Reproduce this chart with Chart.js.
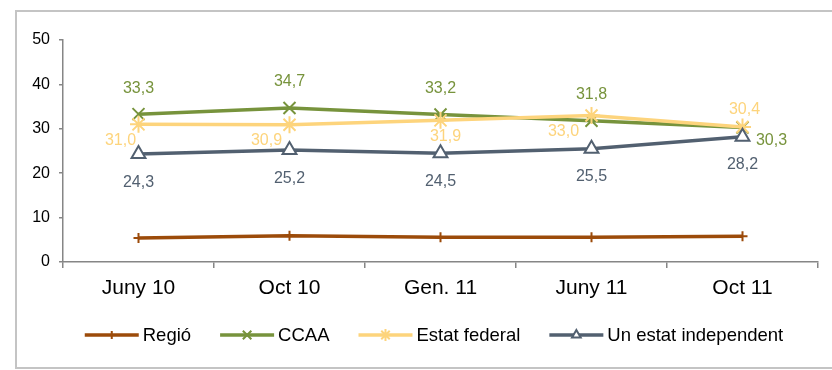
<!DOCTYPE html>
<html>
<head>
<meta charset="utf-8">
<script src="https://cdn.jsdelivr.net/npm/chart.js@4/dist/chart.umd.min.js"></script>
<style>
  html, body { margin: 0; background: #fff; }
  #wrap { width: 832px; height: 370px; }
</style>
</head>
<body>
<div id="wrap"><canvas id="chart" width="832" height="370"></canvas></div>
<script>
// Survey waves and the share (%) for each preferred model
const periods = ["Juny 10", "Oct 10", "Gen. 11", "Juny 11", "Oct 11"];
const regio = [5.4, 5.9, 5.6, 5.6, 5.8];
const ccaa = [33.3, 34.7, 33.2, 31.8, 30.3];
const federal = [31.0, 30.9, 31.9, 33.0, 30.4];
const independent = [24.3, 25.2, 24.5, 25.5, 28.2];

const FONT = "'Liberation Sans', Arial, sans-serif";
const AXIS = "#868686";

// where each value label sits relative to its point, [dx, dy]
const ccaaLabelPos = [[0, -26], [0, -26], [0, -26], [0, -26], [29, 13]];
const federalLabelPos = [[-18, 16], [-23, 16], [5, 16], [-28, 16], [2, -17]];
const independentLabelPos = [[0, 28], [0, 28], [0, 28], [0, 28], [0, 28]];

function fmt(v) {
  return v.toFixed(1).replace(".", ",");
}

// outer frame, open on the right
const framePlugin = {
  id: "frame",
  beforeDraw(chart) {
    const ctx = chart.ctx;
    ctx.save();
    ctx.strokeStyle = "#c4c4c4";
    ctx.lineWidth = 2;
    ctx.beginPath();
    ctx.moveTo(chart.width, 11);
    ctx.lineTo(16, 11);
    ctx.lineTo(16, 368);
    ctx.lineTo(chart.width, 368);
    ctx.stroke();
    ctx.restore();
  }
};

const valueLabels = {
  id: "valueLabels",
  afterDatasetsDraw(chart) {
    const ctx = chart.ctx;
    ctx.save();
    ctx.font = "16px " + FONT;
    ctx.textAlign = "center";
    ctx.textBaseline = "middle";
    chart.data.datasets.forEach((ds, i) => {
      if (!ds.labelPos) return;
      const meta = chart.getDatasetMeta(i);
      ctx.fillStyle = ds.labelColor || ds.borderColor;
      meta.data.forEach((pt, j) => {
        const off = ds.labelPos[j];
        ctx.fillText(fmt(ds.data[j]), pt.x + off[0], pt.y + off[1]);
      });
    });
    ctx.restore();
  }
};

// legend row: short line with the series marker, then the name
const legendRow = {
  id: "legendRow",
  afterDraw(chart) {
    const ctx = chart.ctx;
    const lineLen = 54, gapText = 4, gapItem = 29;
    const y = 335;
    ctx.save();
    ctx.font = "18.5px " + FONT;
    const items = chart.data.datasets.map(ds => ({
      ds: ds,
      w: lineLen + gapText + ctx.measureText(ds.label).width
    }));
    const total = items.reduce((a, it) => a + it.w, 0) + gapItem * (items.length - 1);
    let x = 434 - total / 2;
    items.forEach(it => {
      const ds = it.ds;
      ctx.strokeStyle = ds.borderColor;
      ctx.lineWidth = 3.5;
      ctx.beginPath();
      ctx.moveTo(x, y);
      ctx.lineTo(x + lineLen, y);
      ctx.stroke();
      ctx.fillStyle = ds.pointBackgroundColor;
      ctx.lineWidth = ds.pointBorderWidth;
      Chart.helpers.drawPoint(ctx, {
        pointStyle: ds.pointStyle,
        radius: ds.legendRadius,
        rotation: 0,
        borderWidth: ds.pointBorderWidth
      }, x + lineLen / 2, y);
      ctx.fillStyle = "#000";
      ctx.textAlign = "left";
      ctx.textBaseline = "middle";
      ctx.fillText(ds.label, x + lineLen + gapText, y + 1);
      x += it.w + gapItem;
    });
    ctx.restore();
  }
};

const ctx = document.getElementById("chart").getContext("2d");
new Chart(ctx, {
  type: "line",
  data: {
    labels: periods,
    datasets: [
      {
        label: "Regió",
        data: regio,
        borderColor: "#9c4b0a",
        pointBackgroundColor: "#9c4b0a",
        pointBorderColor: "#9c4b0a",
        pointStyle: "cross",
        pointRadius: 5,
        legendRadius: 4,
        pointBorderWidth: 2,
        order: 4
      },
      {
        label: "CCAA",
        data: ccaa,
        borderColor: "#77933c",
        pointBackgroundColor: "#77933c",
        pointBorderColor: "#77933c",
        pointStyle: "crossRot",
        pointRadius: 8.5,
        legendRadius: 6,
        pointBorderWidth: 2,
        labelPos: ccaaLabelPos,
        order: 3
      },
      {
        label: "Estat federal",
        data: federal,
        borderColor: "#fdd47c",
        pointBackgroundColor: "#fdd47c",
        pointBorderColor: "#fdd47c",
        pointStyle: "star",
        pointRadius: 8.5,
        legendRadius: 6,
        pointBorderWidth: 2,
        labelPos: federalLabelPos,
        order: 2
      },
      {
        label: "Un estat independent",
        data: independent,
        borderColor: "#526070",
        pointBackgroundColor: "#ffffff",
        pointBorderColor: "#526070",
        pointStyle: "triangle",
        pointRadius: 8,
        legendRadius: 5,
        pointBorderWidth: 2,
        labelPos: independentLabelPos,
        order: 1
      }
    ]
  },
  options: {
    responsive: false,
    animation: false,
    elements: {
      line: { borderWidth: 3.5, tension: 0 }
    },
    layout: {
      padding: { left: 15, right: 14, top: 40, bottom: 68 }
    },
    scales: {
      x: {
        offset: true,
        grid: {
          offset: true,
          drawOnChartArea: false,
          tickLength: 6,
          color: AXIS,
          lineWidth: 1.5
        },
        border: { color: AXIS, width: 1.5 },
        ticks: {
          color: "#000",
          padding: 8,
          font: { family: FONT, size: 21 }
        },
        afterFit(scale) { scale.height = 40; }
      },
      y: {
        min: 0,
        max: 50,
        grid: {
          drawOnChartArea: false,
          tickLength: 4,
          color: AXIS,
          lineWidth: 1.5
        },
        border: { color: AXIS, width: 1.5 },
        ticks: {
          stepSize: 10,
          color: "#000",
          padding: 9,
          font: { family: FONT, size: 16 }
        },
        afterFit(scale) { scale.width = 48; }
      }
    },
    plugins: {
      legend: { display: false },
      tooltip: { enabled: false }
    }
  },
  plugins: [framePlugin, valueLabels, legendRow]
});
</script>
</body>
</html>
